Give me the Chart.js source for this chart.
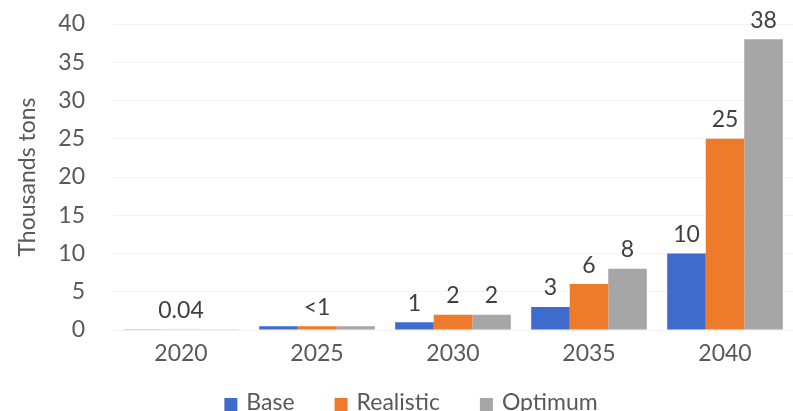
<!DOCTYPE html>
<html>
<head>
<meta charset="utf-8">
<script src="https://cdn.jsdelivr.net/npm/chart.js@4"></script>
<style>
  html, body { margin: 0; padding: 0; background: #ffffff; }
  #wrap { width: 793px; height: 411px; position: relative; }
</style>
</head>
<body>
<div id="wrap"><canvas id="chart"></canvas></div>
<script>
// Projected volumes, thousands of tons
const years = ["2020", "2025", "2030", "2035", "2040"];
const baseValues = [0.04, 0.5, 1, 3, 10];
const realisticValues = [0.04, 0.5, 2, 6, 25];
const optimumValues = [0.04, 0.5, 2, 8, 38];
const yTicks = [0, 5, 10, 15, 20, 25, 30, 35, 40];

// Value labels over the bars; the first two years share one label per group
const baseLabels = [null, null, "1", "3", "10"];
const realisticLabels = ["0.04", "<1", "2", "6", "25"];
const optimumLabels = [null, null, "2", "8", "38"];

const seriesNames = ["Base", "Realistic", "Optimum"];
const seriesColors = ["#3f6bcc", "#ee7b2a", "#a6a6a6"];

const FONT = "Lato, 'Noto Sans', sans-serif";
const TEXT = "#595959";

const valueLabelPlugin = {
  id: "valueLabels",
  afterDatasetsDraw(chart) {
    const ctx = chart.ctx;
    const labelSets = [baseLabels, realisticLabels, optimumLabels];
    ctx.save();
    ctx.font = "23px " + FONT;
    ctx.fillStyle = "#404040";
    ctx.textAlign = "center";
    ctx.textBaseline = "middle";
    labelSets.forEach((labels, di) => {
      const meta = chart.getDatasetMeta(di);
      labels.forEach((txt, i) => {
        if (txt == null) return;
        const bar = meta.data[i];
        // shared labels sit above the tallest bar of the group
        let top = bar.y;
        if (baseLabels[i] == null) {
          for (let k = 0; k < 3; k++) top = Math.min(top, chart.getDatasetMeta(k).data[i].y);
        }
        ctx.fillText(txt, bar.x, top - 19);
      });
    });
    ctx.restore();
  }
};

const legendPlugin = {
  id: "bottomLegend",
  afterDraw(chart) {
    const ctx = chart.ctx;
    ctx.save();
    ctx.font = "23px " + FONT;
    ctx.textBaseline = "alphabetic";
    ctx.textAlign = "left";
    const box = 13, gap = 9, spacing = 40;
    const widths = chart.data.datasets.map(d => box + gap + ctx.measureText(d.label).width);
    const total = widths.reduce((a, b) => a + b, 0) + spacing * (widths.length - 1);
    let x = 411 - total / 2;
    const baseline = 410;
    chart.data.datasets.forEach((d, i) => {
      ctx.fillStyle = d.backgroundColor;
      ctx.fillRect(x, baseline - 12, box, box);
      ctx.fillStyle = TEXT;
      ctx.fillText(d.label, x + box + gap, baseline);
      x += widths[i] + spacing;
    });
    ctx.restore();
  }
};

new Chart(document.getElementById("chart"), {
  type: "bar",
  data: {
    labels: years,
    datasets: [
      { label: seriesNames[0], data: baseValues, backgroundColor: seriesColors[0] },
      { label: seriesNames[1], data: realisticValues, backgroundColor: seriesColors[1] },
      { label: seriesNames[2], data: optimumValues, backgroundColor: seriesColors[2] }
    ]
  },
  options: {
    responsive: true,
    maintainAspectRatio: false,
    animation: false,
    datasets: { bar: { categoryPercentage: 0.85, barPercentage: 1.0 } },
    layout: { padding: { left: 2, right: 0, top: 24, bottom: 0 } },
    plugins: {
      legend: { display: false },
      tooltip: { enabled: false }
    },
    scales: {
      x: {
        grid: { display: false },
        border: { display: false },
        ticks: { color: TEXT, font: { family: FONT, size: 23 }, padding: 2 },
        afterFit(axis) { axis.height = 81; }
      },
      y: {
        min: 0,
        max: 40,
        afterBuildTicks(axis) { axis.ticks = yTicks.map(v => ({ value: v })); },
        afterFit(axis) {
          axis.width = 111;
          axis.paddingTop = 0;
          axis.paddingBottom = 0;
        },
        grid: { color: "#f3f3f3", drawTicks: false },
        border: { display: false },
        ticks: { color: TEXT, font: { family: FONT, size: 23 }, padding: 28 },
        title: {
          display: true,
          text: "Thousands tons",
          color: TEXT,
          font: { family: FONT, size: 23 },
          padding: { top: 12, bottom: 14 }
        }
      }
    }
  },
  plugins: [valueLabelPlugin, legendPlugin]
});
</script>
</body>
</html>
